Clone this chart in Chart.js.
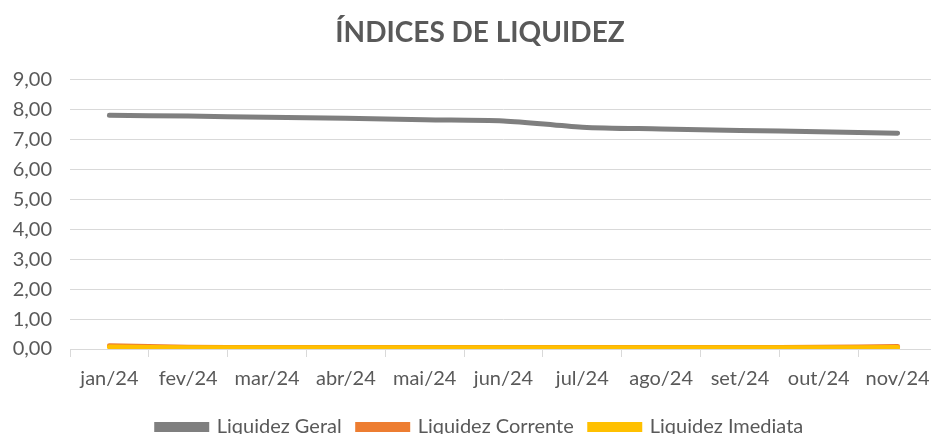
<!DOCTYPE html>
<html>
<head>
<meta charset="utf-8">
<script src="https://cdn.jsdelivr.net/npm/chart.js@4/dist/chart.umd.min.js"></script>
<style>
html,body{margin:0;padding:0;background:#fff;overflow:hidden;}
#wrap{width:948px;height:447px;position:relative;}
</style>
</head>
<body>
<div id="wrap"><canvas id="c" width="948" height="447"></canvas></div>
<script>
const categories = ["jan/24","fev/24","mar/24","abr/24","mai/24","jun/24","jul/24","ago/24","set/24","out/24","nov/24"];
const liquidezGeral    = [7.81, 7.78, 7.74, 7.71, 7.66, 7.62, 7.41, 7.35, 7.30, 7.26, 7.21];
const liquidezCorrente = [0.11, 0.06, 0.05, 0.05, 0.05, 0.05, 0.05, 0.05, 0.05, 0.06, 0.08];
const liquidezImediata = [0.07, 0.04, 0.04, 0.04, 0.04, 0.04, 0.04, 0.04, 0.04, 0.04, 0.05];
const seriesNames = ["Liquidez Geral","Liquidez Corrente","Liquidez Imediata"];
const yTicks = [0,1,2,3,4,5,6,7,8,9];

const FONT = "Lato, 'Open Sans', sans-serif";
const colors = ["#7f7f7f","#ED7D31","#FFC000"];
const drawOrder = [0, 2, 1];
const data = [liquidezGeral, liquidezCorrente, liquidezImediata];

new Chart(document.getElementById('c'), {
  type: 'line',
  data: {
    labels: categories,
    datasets: seriesNames.map((n,i)=>({
      label: n,
      data: data[i],
      order: drawOrder[i],
      borderColor: colors[i],
      backgroundColor: colors[i],
      borderWidth: 5,
      pointRadius: 0,
      tension: 0.3,
      borderCapStyle: 'round',
      fill: false
    }))
  },
  options: {
    responsive: false,
    animation: false,
    layout: { padding: { left: 12, right: 0, top: 0, bottom: 0 } },
    plugins: {
      title: {
        display: true,
        text: 'ÍNDICES DE LIQUIDEZ',
        color: '#595959',
        font: { family: FONT, size: 28, weight: 'bold' },
        padding: { top: 16, bottom: 30 }
      },
      legend: {
        position: 'bottom',
        labels: {
          boxWidth: 50,
          boxHeight: 5,
          color: '#595959',
          font: { family: FONT, size: 20 },
          padding: 16,
          sort: (a, b) => a.datasetIndex - b.datasetIndex
        }
      },
      tooltip: { enabled: false }
    },
    scales: {
      x: {
        offset: true,
        grid: { offset: true, drawOnChartArea: false, drawTicks: true, tickLength: 8, color: '#d9d9d9' },
        border: { display: true, color: '#d9d9d9', width: 1 },
        ticks: { color: '#595959', font: { family: FONT, size: 20 }, padding: 10, maxRotation: 0, autoSkip: false }
      },
      y: {
        min: 0, max: 9,
        afterBuildTicks: (ax) => { ax.ticks = yTicks.map(v => ({ value: v })); },
        afterFit: (s) => { s.width = 58; },
        grid: { color: '#d9d9d9', drawTicks: false },
        border: { display: false },
        ticks: {
          color: '#595959',
          font: { family: FONT, size: 20 },
          padding: 18,
          callback: (v) => Number(v).toFixed(2).replace('.', ',')
        }
      },
      yRight: {
        position: 'right',
        display: true,
        grid: { display: false, drawTicks: false },
        border: { display: false },
        ticks: { display: false },
        afterFit: (s) => { s.width = 11; }
      }
    }
  }
});
</script>
</body>
</html>
